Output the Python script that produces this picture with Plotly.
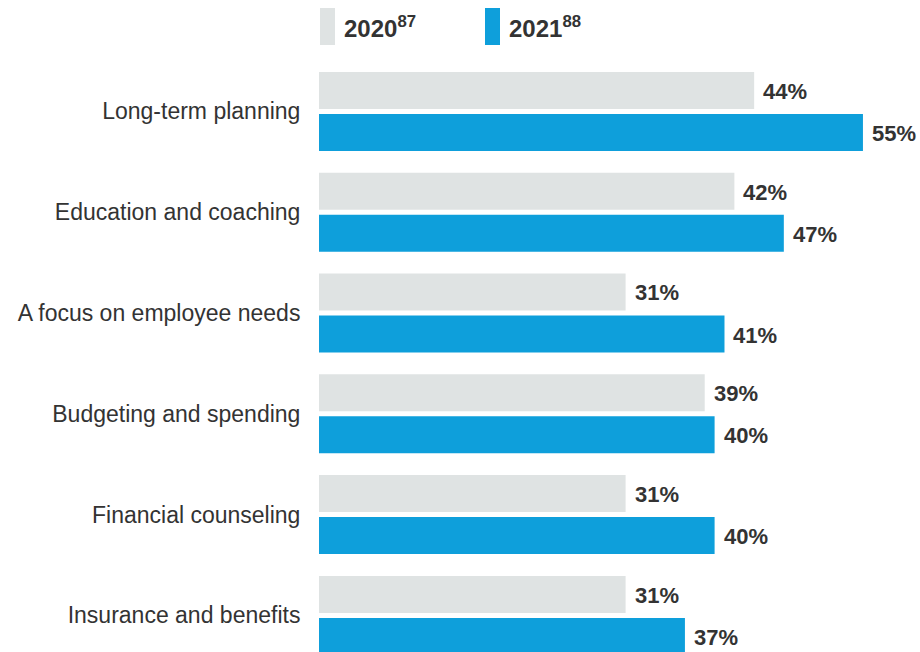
import plotly.graph_objects as go

# Survey topics, top to bottom
categories = [
    "Long-term planning",
    "Education and coaching",
    "A focus on employee needs",
    "Budgeting and spending",
    "Financial counseling",
    "Insurance and benefits",
]
values_2020 = [44, 42, 31, 39, 31, 31]
values_2021 = [55, 47, 41, 40, 40, 37]
series_names = ["2020", "2021"]
series_notes = ["87", "88"]

GRAY = "#DFE3E3"
BLUE = "#0E9FDB"
TEXT = "#333333"
FONT = "Liberation Sans"

W, H = 920, 652
M_L, M_T = 319, 61

fig = go.Figure()
for name, vals, color in [(series_names[0], values_2020, GRAY),
                          (series_names[1], values_2021, BLUE)]:
    fig.add_trace(go.Bar(
        y=categories, x=vals, orientation="h", name=name,
        marker=dict(color=color, line=dict(width=0)),
        showlegend=False, hoverinfo="skip",
    ))

# Value labels just past the end of each bar
for i, cat in enumerate(categories):
    for vals, off in [(values_2020, -0.21), (values_2021, 0.21)]:
        fig.add_annotation(
            x=vals[i], y=i + off, xref="x", yref="y",
            text=f"<b>{vals[i]}%</b>", showarrow=False,
            xanchor="left", yanchor="middle", xshift=7, yshift=-1,
            font=dict(family=FONT, size=22, color=TEXT),
        )

# Legend drawn as swatches with labels
plot_w = W - M_L
for name, note, color, x0 in [(series_names[0], series_notes[0], GRAY, 320),
                              (series_names[1], series_notes[1], BLUE, 485)]:
    fig.add_shape(
        type="rect", xref="paper", yref="paper",
        x0=(x0 - M_L) / plot_w, x1=(x0 + 15 - M_L) / plot_w,
        y0=1 + (M_T - 45) / (H - M_T), y1=1 + (M_T - 8) / (H - M_T),
        fillcolor=color, line=dict(width=0),
    )
    fig.add_annotation(
        xref="paper", yref="paper",
        x=(x0 + 22 - M_L) / plot_w, y=1 + (M_T - 27) / (H - M_T),
        text=f"<b>{name}<sup>{note}</sup></b>", showarrow=False,
        xanchor="left", yanchor="middle",
        font=dict(family=FONT, size=24, color=TEXT),
    )

pitch = 100.8
fig.update_layout(
    width=W, height=H,
    margin=dict(l=M_L, r=0, t=M_T, b=0, pad=0),
    paper_bgcolor="white", plot_bgcolor="white",
    barmode="group", bargap=0.167, bargroupgap=0.119,
    font=dict(family=FONT, color=TEXT),
    xaxis=dict(range=[0, (W - M_L) / 9.89], visible=False, fixedrange=True),
    yaxis=dict(
        categoryorder="array", categoryarray=categories,
        range=[-0.5 + (H - M_T) / pitch, -0.5],
        showgrid=False, zeroline=False, showline=False,
        ticks="outside", ticklen=13, tickcolor="rgba(0,0,0,0)",
        tickfont=dict(family=FONT, size=23, color=TEXT),
    ),
)

fig.write_html("out.html")
